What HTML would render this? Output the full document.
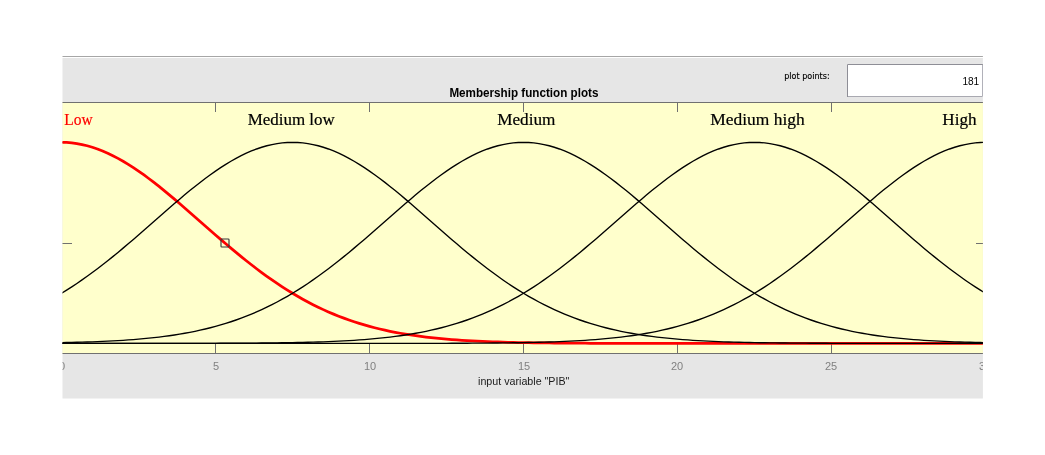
<!DOCTYPE html>
<html><head><meta charset="utf-8"><title>Membership function plots</title>
<style>
html,body{margin:0;padding:0;background:#fff;}
body{width:1045px;height:455px;overflow:hidden;position:relative;font-family:"Liberation Sans",sans-serif;}
svg{position:absolute;left:0;top:0;display:block;will-change:transform;opacity:0.9999}
.sans{font-family:"Liberation Sans",sans-serif}
.serif{font-family:"Liberation Serif",serif}
</style></head><body>
<svg width="1045" height="455" viewBox="0 0 1045 455">
<defs><clipPath id="cp"><rect x="62.5" y="56" width="920.4" height="342.4"/></clipPath></defs>
<g clip-path="url(#cp)">
<!-- panel -->
<rect x="62" y="56" width="921" height="1" fill="#a6a6a6"/>
<rect x="62" y="57" width="921" height="1" fill="#ffffff"/>
<rect x="62" y="58" width="921" height="342" fill="#e6e6e6"/>
<!-- plot area -->
<rect x="61" y="102" width="926" height="252" fill="#ffffcc"/>
<g stroke="#707070" stroke-width="1" fill="none" shape-rendering="crispEdges">
<line x1="61" y1="102.5" x2="987" y2="102.5"/>
<line x1="61" y1="353.5" x2="987" y2="353.5"/>
<line x1="61.5" y1="102" x2="61.5" y2="354"/>
<line x1="985.5" y1="102" x2="985.5" y2="354"/>
<line x1="215.5" y1="102" x2="215.5" y2="112"/>
<line x1="215.5" y1="344" x2="215.5" y2="354"/>
<line x1="369.5" y1="102" x2="369.5" y2="112"/>
<line x1="369.5" y1="344" x2="369.5" y2="354"/>
<line x1="523.5" y1="102" x2="523.5" y2="112"/>
<line x1="523.5" y1="344" x2="523.5" y2="354"/>
<line x1="677.5" y1="102" x2="677.5" y2="112"/>
<line x1="677.5" y1="344" x2="677.5" y2="354"/>
<line x1="831.5" y1="102" x2="831.5" y2="112"/>
<line x1="831.5" y1="344" x2="831.5" y2="354"/>
<line x1="61" y1="343.5" x2="72" y2="343.5"/>
<line x1="975.6" y1="343.5" x2="986" y2="343.5"/>
<line x1="61" y1="243.5" x2="72" y2="243.5"/>
<line x1="975.6" y1="243.5" x2="986" y2="243.5"/>
<line x1="61" y1="142.5" x2="72" y2="142.5"/>
<line x1="975.6" y1="142.5" x2="986" y2="142.5"/>
</g>
<path d="M61.50 142.35 L66.63 142.49 L71.77 142.90 L76.90 143.59 L82.03 144.54 L87.17 145.77 L92.30 147.25 L97.43 148.99 L102.57 150.98 L107.70 153.21 L112.83 155.68 L117.97 158.36 L123.10 161.26 L128.23 164.35 L133.37 167.64 L138.50 171.10 L143.63 174.73 L148.77 178.50 L153.90 182.41 L159.03 186.45 L164.17 190.59 L169.30 194.83 L174.43 199.14 L179.57 203.53 L184.70 207.96 L189.83 212.44 L194.97 216.94 L200.10 221.46 L205.23 225.97 L210.37 230.47 L215.50 234.95 L220.63 239.40 L225.77 243.79 L230.90 248.14 L236.03 252.42 L241.17 256.62 L246.30 260.75 L251.43 264.78 L256.57 268.72 L261.70 272.57 L266.83 276.30 L271.97 279.93 L277.10 283.44 L282.23 286.84 L287.37 290.11 L292.50 293.27 L297.63 296.30 L302.77 299.21 L307.90 302.00 L313.03 304.66 L318.17 307.21 L323.30 309.63 L328.43 311.93 L333.57 314.12 L338.70 316.19 L343.83 318.15 L348.97 320.00 L354.10 321.75 L359.23 323.39 L364.37 324.93 L369.50 326.38 L374.63 327.74 L379.77 329.00 L384.90 330.19 L390.03 331.29 L395.17 332.31 L400.30 333.27 L405.43 334.15 L410.57 334.97 L415.70 335.72 L420.83 336.42 L425.97 337.07 L431.10 337.66 L436.23 338.20 L441.37 338.70 L446.50 339.16 L451.63 339.57 L456.77 339.95 L461.90 340.30 L467.03 340.62 L472.17 340.91 L477.30 341.17 L482.43 341.40 L487.57 341.62 L492.70 341.81 L497.83 341.98 L502.97 342.14 L508.10 342.28 L513.23 342.41 L518.37 342.52 L523.50 342.62 L528.63 342.71 L533.77 342.79 L538.90 342.87 L544.03 342.93 L549.17 342.99 L554.30 343.04 L559.43 343.08 L564.57 343.12 L569.70 343.16 L574.83 343.19 L579.97 343.22 L585.10 343.24 L590.23 343.26 L595.37 343.28 L600.50 343.30 L605.63 343.31 L610.77 343.32 L615.90 343.33 L621.03 343.34 L626.17 343.35 L631.30 343.36 L636.43 343.36 L641.57 343.37 L646.70 343.37 L651.83 343.38 L656.97 343.38 L662.10 343.38 L667.23 343.39 L672.37 343.39 L677.50 343.39 L682.63 343.39 L687.77 343.39 L692.90 343.39 L698.03 343.39 L703.17 343.40 L708.30 343.40 L713.43 343.40 L718.57 343.40 L723.70 343.40 L728.83 343.40 L733.97 343.40 L739.10 343.40 L744.23 343.40 L749.37 343.40 L754.50 343.40 L759.63 343.40 L764.77 343.40 L769.90 343.40 L775.03 343.40 L780.17 343.40 L785.30 343.40 L790.43 343.40 L795.57 343.40 L800.70 343.40 L805.83 343.40 L810.97 343.40 L816.10 343.40 L821.23 343.40 L826.37 343.40 L831.50 343.40 L836.63 343.40 L841.77 343.40 L846.90 343.40 L852.03 343.40 L857.17 343.40 L862.30 343.40 L867.43 343.40 L872.57 343.40 L877.70 343.40 L882.83 343.40 L887.97 343.40 L893.10 343.40 L898.23 343.40 L903.37 343.40 L908.50 343.40 L913.63 343.40 L918.77 343.40 L923.90 343.40 L929.03 343.40 L934.17 343.40 L939.30 343.40 L944.43 343.40 L949.57 343.40 L954.70 343.40 L959.83 343.40 L964.97 343.40 L970.10 343.40 L975.23 343.40 L980.37 343.40 L985.50 343.40" fill="none" stroke="#ff0000" stroke-width="2.75" stroke-linejoin="round"/>
<path d="M61.50 293.27 L66.63 290.11 L71.77 286.84 L76.90 283.44 L82.03 279.93 L87.17 276.30 L92.30 272.57 L97.43 268.72 L102.57 264.78 L107.70 260.75 L112.83 256.62 L117.97 252.42 L123.10 248.14 L128.23 243.79 L133.37 239.40 L138.50 234.95 L143.63 230.47 L148.77 225.97 L153.90 221.46 L159.03 216.94 L164.17 212.44 L169.30 207.96 L174.43 203.53 L179.57 199.14 L184.70 194.83 L189.83 190.59 L194.97 186.45 L200.10 182.41 L205.23 178.50 L210.37 174.73 L215.50 171.10 L220.63 167.64 L225.77 164.35 L230.90 161.26 L236.03 158.36 L241.17 155.68 L246.30 153.21 L251.43 150.98 L256.57 148.99 L261.70 147.25 L266.83 145.77 L271.97 144.54 L277.10 143.59 L282.23 142.90 L287.37 142.49 L292.50 142.35 L297.63 142.49 L302.77 142.90 L307.90 143.59 L313.03 144.54 L318.17 145.77 L323.30 147.25 L328.43 148.99 L333.57 150.98 L338.70 153.21 L343.83 155.68 L348.97 158.36 L354.10 161.26 L359.23 164.35 L364.37 167.64 L369.50 171.10 L374.63 174.73 L379.77 178.50 L384.90 182.41 L390.03 186.45 L395.17 190.59 L400.30 194.83 L405.43 199.14 L410.57 203.53 L415.70 207.96 L420.83 212.44 L425.97 216.94 L431.10 221.46 L436.23 225.97 L441.37 230.47 L446.50 234.95 L451.63 239.40 L456.77 243.79 L461.90 248.14 L467.03 252.42 L472.17 256.62 L477.30 260.75 L482.43 264.78 L487.57 268.72 L492.70 272.57 L497.83 276.30 L502.97 279.93 L508.10 283.44 L513.23 286.84 L518.37 290.11 L523.50 293.27 L528.63 296.30 L533.77 299.21 L538.90 302.00 L544.03 304.66 L549.17 307.21 L554.30 309.63 L559.43 311.93 L564.57 314.12 L569.70 316.19 L574.83 318.15 L579.97 320.00 L585.10 321.75 L590.23 323.39 L595.37 324.93 L600.50 326.38 L605.63 327.74 L610.77 329.00 L615.90 330.19 L621.03 331.29 L626.17 332.31 L631.30 333.27 L636.43 334.15 L641.57 334.97 L646.70 335.72 L651.83 336.42 L656.97 337.07 L662.10 337.66 L667.23 338.20 L672.37 338.70 L677.50 339.16 L682.63 339.57 L687.77 339.95 L692.90 340.30 L698.03 340.62 L703.17 340.91 L708.30 341.17 L713.43 341.40 L718.57 341.62 L723.70 341.81 L728.83 341.98 L733.97 342.14 L739.10 342.28 L744.23 342.41 L749.37 342.52 L754.50 342.62 L759.63 342.71 L764.77 342.79 L769.90 342.87 L775.03 342.93 L780.17 342.99 L785.30 343.04 L790.43 343.08 L795.57 343.12 L800.70 343.16 L805.83 343.19 L810.97 343.22 L816.10 343.24 L821.23 343.26 L826.37 343.28 L831.50 343.30 L836.63 343.31 L841.77 343.32 L846.90 343.33 L852.03 343.34 L857.17 343.35 L862.30 343.36 L867.43 343.36 L872.57 343.37 L877.70 343.37 L882.83 343.38 L887.97 343.38 L893.10 343.38 L898.23 343.39 L903.37 343.39 L908.50 343.39 L913.63 343.39 L918.77 343.39 L923.90 343.39 L929.03 343.39 L934.17 343.40 L939.30 343.40 L944.43 343.40 L949.57 343.40 L954.70 343.40 L959.83 343.40 L964.97 343.40 L970.10 343.40 L975.23 343.40 L980.37 343.40 L985.50 343.40" fill="none" stroke="#000000" stroke-width="1.35" stroke-linejoin="round"/>
<path d="M61.50 342.62 L66.63 342.52 L71.77 342.41 L76.90 342.28 L82.03 342.14 L87.17 341.98 L92.30 341.81 L97.43 341.62 L102.57 341.40 L107.70 341.17 L112.83 340.91 L117.97 340.62 L123.10 340.30 L128.23 339.95 L133.37 339.57 L138.50 339.16 L143.63 338.70 L148.77 338.20 L153.90 337.66 L159.03 337.07 L164.17 336.42 L169.30 335.72 L174.43 334.97 L179.57 334.15 L184.70 333.27 L189.83 332.31 L194.97 331.29 L200.10 330.19 L205.23 329.00 L210.37 327.74 L215.50 326.38 L220.63 324.93 L225.77 323.39 L230.90 321.75 L236.03 320.00 L241.17 318.15 L246.30 316.19 L251.43 314.12 L256.57 311.93 L261.70 309.63 L266.83 307.21 L271.97 304.66 L277.10 302.00 L282.23 299.21 L287.37 296.30 L292.50 293.27 L297.63 290.11 L302.77 286.84 L307.90 283.44 L313.03 279.93 L318.17 276.30 L323.30 272.57 L328.43 268.72 L333.57 264.78 L338.70 260.75 L343.83 256.62 L348.97 252.42 L354.10 248.14 L359.23 243.79 L364.37 239.40 L369.50 234.95 L374.63 230.47 L379.77 225.97 L384.90 221.46 L390.03 216.94 L395.17 212.44 L400.30 207.96 L405.43 203.53 L410.57 199.14 L415.70 194.83 L420.83 190.59 L425.97 186.45 L431.10 182.41 L436.23 178.50 L441.37 174.73 L446.50 171.10 L451.63 167.64 L456.77 164.35 L461.90 161.26 L467.03 158.36 L472.17 155.68 L477.30 153.21 L482.43 150.98 L487.57 148.99 L492.70 147.25 L497.83 145.77 L502.97 144.54 L508.10 143.59 L513.23 142.90 L518.37 142.49 L523.50 142.35 L528.63 142.49 L533.77 142.90 L538.90 143.59 L544.03 144.54 L549.17 145.77 L554.30 147.25 L559.43 148.99 L564.57 150.98 L569.70 153.21 L574.83 155.68 L579.97 158.36 L585.10 161.26 L590.23 164.35 L595.37 167.64 L600.50 171.10 L605.63 174.73 L610.77 178.50 L615.90 182.41 L621.03 186.45 L626.17 190.59 L631.30 194.83 L636.43 199.14 L641.57 203.53 L646.70 207.96 L651.83 212.44 L656.97 216.94 L662.10 221.46 L667.23 225.97 L672.37 230.47 L677.50 234.95 L682.63 239.40 L687.77 243.79 L692.90 248.14 L698.03 252.42 L703.17 256.62 L708.30 260.75 L713.43 264.78 L718.57 268.72 L723.70 272.57 L728.83 276.30 L733.97 279.93 L739.10 283.44 L744.23 286.84 L749.37 290.11 L754.50 293.27 L759.63 296.30 L764.77 299.21 L769.90 302.00 L775.03 304.66 L780.17 307.21 L785.30 309.63 L790.43 311.93 L795.57 314.12 L800.70 316.19 L805.83 318.15 L810.97 320.00 L816.10 321.75 L821.23 323.39 L826.37 324.93 L831.50 326.38 L836.63 327.74 L841.77 329.00 L846.90 330.19 L852.03 331.29 L857.17 332.31 L862.30 333.27 L867.43 334.15 L872.57 334.97 L877.70 335.72 L882.83 336.42 L887.97 337.07 L893.10 337.66 L898.23 338.20 L903.37 338.70 L908.50 339.16 L913.63 339.57 L918.77 339.95 L923.90 340.30 L929.03 340.62 L934.17 340.91 L939.30 341.17 L944.43 341.40 L949.57 341.62 L954.70 341.81 L959.83 341.98 L964.97 342.14 L970.10 342.28 L975.23 342.41 L980.37 342.52 L985.50 342.62" fill="none" stroke="#000000" stroke-width="1.35" stroke-linejoin="round"/>
<path d="M61.50 343.40 L66.63 343.40 L71.77 343.40 L76.90 343.40 L82.03 343.40 L87.17 343.40 L92.30 343.40 L97.43 343.40 L102.57 343.40 L107.70 343.40 L112.83 343.40 L117.97 343.39 L123.10 343.39 L128.23 343.39 L133.37 343.39 L138.50 343.39 L143.63 343.39 L148.77 343.39 L153.90 343.38 L159.03 343.38 L164.17 343.38 L169.30 343.37 L174.43 343.37 L179.57 343.36 L184.70 343.36 L189.83 343.35 L194.97 343.34 L200.10 343.33 L205.23 343.32 L210.37 343.31 L215.50 343.30 L220.63 343.28 L225.77 343.26 L230.90 343.24 L236.03 343.22 L241.17 343.19 L246.30 343.16 L251.43 343.12 L256.57 343.08 L261.70 343.04 L266.83 342.99 L271.97 342.93 L277.10 342.87 L282.23 342.79 L287.37 342.71 L292.50 342.62 L297.63 342.52 L302.77 342.41 L307.90 342.28 L313.03 342.14 L318.17 341.98 L323.30 341.81 L328.43 341.62 L333.57 341.40 L338.70 341.17 L343.83 340.91 L348.97 340.62 L354.10 340.30 L359.23 339.95 L364.37 339.57 L369.50 339.16 L374.63 338.70 L379.77 338.20 L384.90 337.66 L390.03 337.07 L395.17 336.42 L400.30 335.72 L405.43 334.97 L410.57 334.15 L415.70 333.27 L420.83 332.31 L425.97 331.29 L431.10 330.19 L436.23 329.00 L441.37 327.74 L446.50 326.38 L451.63 324.93 L456.77 323.39 L461.90 321.75 L467.03 320.00 L472.17 318.15 L477.30 316.19 L482.43 314.12 L487.57 311.93 L492.70 309.63 L497.83 307.21 L502.97 304.66 L508.10 302.00 L513.23 299.21 L518.37 296.30 L523.50 293.27 L528.63 290.11 L533.77 286.84 L538.90 283.44 L544.03 279.93 L549.17 276.30 L554.30 272.57 L559.43 268.72 L564.57 264.78 L569.70 260.75 L574.83 256.62 L579.97 252.42 L585.10 248.14 L590.23 243.79 L595.37 239.40 L600.50 234.95 L605.63 230.47 L610.77 225.97 L615.90 221.46 L621.03 216.94 L626.17 212.44 L631.30 207.96 L636.43 203.53 L641.57 199.14 L646.70 194.83 L651.83 190.59 L656.97 186.45 L662.10 182.41 L667.23 178.50 L672.37 174.73 L677.50 171.10 L682.63 167.64 L687.77 164.35 L692.90 161.26 L698.03 158.36 L703.17 155.68 L708.30 153.21 L713.43 150.98 L718.57 148.99 L723.70 147.25 L728.83 145.77 L733.97 144.54 L739.10 143.59 L744.23 142.90 L749.37 142.49 L754.50 142.35 L759.63 142.49 L764.77 142.90 L769.90 143.59 L775.03 144.54 L780.17 145.77 L785.30 147.25 L790.43 148.99 L795.57 150.98 L800.70 153.21 L805.83 155.68 L810.97 158.36 L816.10 161.26 L821.23 164.35 L826.37 167.64 L831.50 171.10 L836.63 174.73 L841.77 178.50 L846.90 182.41 L852.03 186.45 L857.17 190.59 L862.30 194.83 L867.43 199.14 L872.57 203.53 L877.70 207.96 L882.83 212.44 L887.97 216.94 L893.10 221.46 L898.23 225.97 L903.37 230.47 L908.50 234.95 L913.63 239.40 L918.77 243.79 L923.90 248.14 L929.03 252.42 L934.17 256.62 L939.30 260.75 L944.43 264.78 L949.57 268.72 L954.70 272.57 L959.83 276.30 L964.97 279.93 L970.10 283.44 L975.23 286.84 L980.37 290.11 L985.50 293.27" fill="none" stroke="#000000" stroke-width="1.35" stroke-linejoin="round"/>
<path d="M61.50 343.40 L66.63 343.40 L71.77 343.40 L76.90 343.40 L82.03 343.40 L87.17 343.40 L92.30 343.40 L97.43 343.40 L102.57 343.40 L107.70 343.40 L112.83 343.40 L117.97 343.40 L123.10 343.40 L128.23 343.40 L133.37 343.40 L138.50 343.40 L143.63 343.40 L148.77 343.40 L153.90 343.40 L159.03 343.40 L164.17 343.40 L169.30 343.40 L174.43 343.40 L179.57 343.40 L184.70 343.40 L189.83 343.40 L194.97 343.40 L200.10 343.40 L205.23 343.40 L210.37 343.40 L215.50 343.40 L220.63 343.40 L225.77 343.40 L230.90 343.40 L236.03 343.40 L241.17 343.40 L246.30 343.40 L251.43 343.40 L256.57 343.40 L261.70 343.40 L266.83 343.40 L271.97 343.40 L277.10 343.40 L282.23 343.40 L287.37 343.40 L292.50 343.40 L297.63 343.40 L302.77 343.40 L307.90 343.40 L313.03 343.40 L318.17 343.40 L323.30 343.40 L328.43 343.40 L333.57 343.40 L338.70 343.40 L343.83 343.40 L348.97 343.39 L354.10 343.39 L359.23 343.39 L364.37 343.39 L369.50 343.39 L374.63 343.39 L379.77 343.39 L384.90 343.38 L390.03 343.38 L395.17 343.38 L400.30 343.37 L405.43 343.37 L410.57 343.36 L415.70 343.36 L420.83 343.35 L425.97 343.34 L431.10 343.33 L436.23 343.32 L441.37 343.31 L446.50 343.30 L451.63 343.28 L456.77 343.26 L461.90 343.24 L467.03 343.22 L472.17 343.19 L477.30 343.16 L482.43 343.12 L487.57 343.08 L492.70 343.04 L497.83 342.99 L502.97 342.93 L508.10 342.87 L513.23 342.79 L518.37 342.71 L523.50 342.62 L528.63 342.52 L533.77 342.41 L538.90 342.28 L544.03 342.14 L549.17 341.98 L554.30 341.81 L559.43 341.62 L564.57 341.40 L569.70 341.17 L574.83 340.91 L579.97 340.62 L585.10 340.30 L590.23 339.95 L595.37 339.57 L600.50 339.16 L605.63 338.70 L610.77 338.20 L615.90 337.66 L621.03 337.07 L626.17 336.42 L631.30 335.72 L636.43 334.97 L641.57 334.15 L646.70 333.27 L651.83 332.31 L656.97 331.29 L662.10 330.19 L667.23 329.00 L672.37 327.74 L677.50 326.38 L682.63 324.93 L687.77 323.39 L692.90 321.75 L698.03 320.00 L703.17 318.15 L708.30 316.19 L713.43 314.12 L718.57 311.93 L723.70 309.63 L728.83 307.21 L733.97 304.66 L739.10 302.00 L744.23 299.21 L749.37 296.30 L754.50 293.27 L759.63 290.11 L764.77 286.84 L769.90 283.44 L775.03 279.93 L780.17 276.30 L785.30 272.57 L790.43 268.72 L795.57 264.78 L800.70 260.75 L805.83 256.62 L810.97 252.42 L816.10 248.14 L821.23 243.79 L826.37 239.40 L831.50 234.95 L836.63 230.47 L841.77 225.97 L846.90 221.46 L852.03 216.94 L857.17 212.44 L862.30 207.96 L867.43 203.53 L872.57 199.14 L877.70 194.83 L882.83 190.59 L887.97 186.45 L893.10 182.41 L898.23 178.50 L903.37 174.73 L908.50 171.10 L913.63 167.64 L918.77 164.35 L923.90 161.26 L929.03 158.36 L934.17 155.68 L939.30 153.21 L944.43 150.98 L949.57 148.99 L954.70 147.25 L959.83 145.77 L964.97 144.54 L970.10 143.59 L975.23 142.90 L980.37 142.49 L985.50 142.35" fill="none" stroke="#000000" stroke-width="1.35" stroke-linejoin="round"/>
<rect x="221" y="239" width="8" height="8" rx="0.8" fill="none" stroke="#383838" stroke-width="1.15"/>
<rect x="847" y="64" width="136" height="33" fill="#ffffff"/>
<path d="M847.5 97V64.5H983" fill="none" stroke="#8e8e96" stroke-width="1"/>
<path d="M848 96.5H982.5V65" fill="none" stroke="#a9a9b1" stroke-width="1"/>
<text class="sans" x="962.4" y="85.4" font-size="11" textLength="16.8" lengthAdjust="spacingAndGlyphs" fill="#000">181</text>
<text x="784.2" y="79" font-family="DejaVu Sans, sans-serif" font-size="8" textLength="45.4" lengthAdjust="spacingAndGlyphs" fill="#000" stroke="#000" stroke-width="0.15">plot points:</text>
<text class="sans" x="449.4" y="97.3" font-size="12" font-weight="bold" textLength="149" lengthAdjust="spacingAndGlyphs" fill="#000">Membership function plots</text>
<text class="sans" x="478" y="385" font-size="11" textLength="91.4" lengthAdjust="spacingAndGlyphs" fill="#1a1a1a">input variable "PIB"</text>
<text class="sans" x="62.0" y="370" font-size="11" text-anchor="middle" fill="#808080">0</text>
<text class="sans" x="216.0" y="370" font-size="11" text-anchor="middle" fill="#808080">5</text>
<text class="sans" x="370.0" y="370" font-size="11" text-anchor="middle" fill="#808080">10</text>
<text class="sans" x="524.0" y="370" font-size="11" text-anchor="middle" fill="#808080">15</text>
<text class="sans" x="677.0" y="370" font-size="11" text-anchor="middle" fill="#808080">20</text>
<text class="sans" x="831.0" y="370" font-size="11" text-anchor="middle" fill="#808080">25</text>
<text class="sans" x="985.0" y="370" font-size="11" text-anchor="middle" fill="#808080">30</text>
<text class="serif" x="64.2" y="125.2" font-size="16" textLength="28.4" lengthAdjust="spacingAndGlyphs" fill="#ff0000" stroke="#ff0000" stroke-width="0.2">Low</text>
<text class="serif" x="247.7" y="125.2" font-size="16" textLength="87.0" lengthAdjust="spacingAndGlyphs" fill="#000" stroke="#000" stroke-width="0.2">Medium low</text>
<text class="serif" x="497.2" y="125.2" font-size="16" textLength="58.2" lengthAdjust="spacingAndGlyphs" fill="#000" stroke="#000" stroke-width="0.2">Medium</text>
<text class="serif" x="710.3" y="125.2" font-size="16" textLength="94.4" lengthAdjust="spacingAndGlyphs" fill="#000" stroke="#000" stroke-width="0.2">Medium high</text>
<text class="serif" x="942.3" y="125.2" font-size="16" textLength="34.2" lengthAdjust="spacingAndGlyphs" fill="#000" stroke="#000" stroke-width="0.2">High</text>
</g></svg></body></html>
